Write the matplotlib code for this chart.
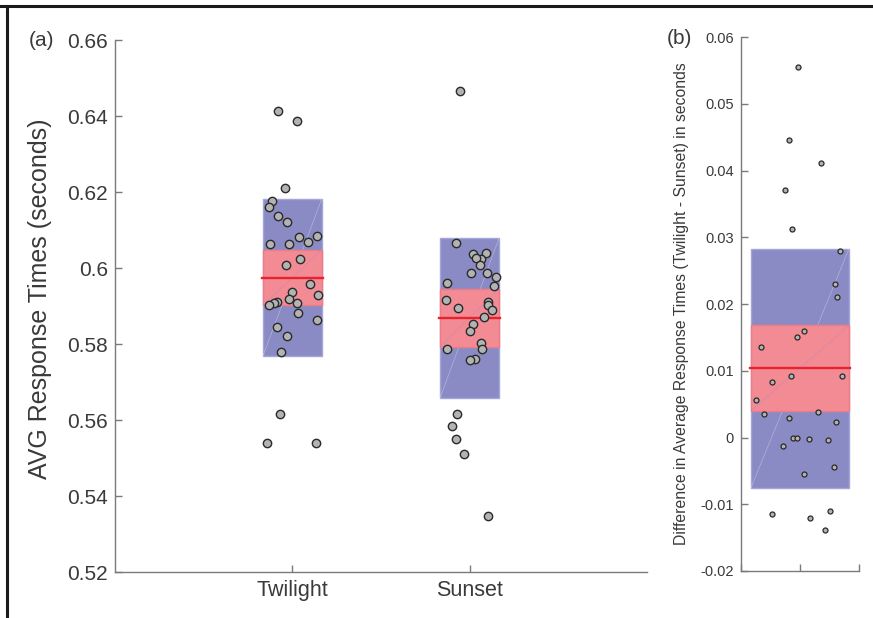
import numpy as np
import matplotlib.pyplot as plt
from matplotlib.patches import Rectangle
from matplotlib.lines import Line2D

plt.rcParams["font.family"] = ["Liberation Sans", "DejaVu Sans"]

# panel (a) data
categories = ["Twilight", "Sunset"]
twilight_rt = [0.6413, 0.6388, 0.6211, 0.6176, 0.6160, 0.6138, 0.6122, 0.6082,
               0.6084, 0.6068, 0.6062, 0.6062, 0.6024, 0.6009, 0.5958, 0.5930,
               0.5936, 0.5919, 0.5907, 0.5911, 0.5907, 0.5903, 0.5882, 0.5863,
               0.5844, 0.5821, 0.5780, 0.5617, 0.5540, 0.5540]
twilight_jitter = [-0.078, 0.025, -0.042, -0.112, -0.131, -0.083, -0.029, 0.038,
                   0.140, 0.086, -0.125, -0.016, 0.044, -0.037, 0.099, 0.146,
                   -0.003, -0.018, 0.025, -0.089, -0.104, -0.131, 0.031, 0.140,
                   -0.089, -0.029, -0.065, -0.071, -0.144, 0.133]
sunset_rt = [0.6467, 0.6065, 0.6037, 0.6039, 0.6024, 0.6026, 0.6009, 0.5986,
             0.5986, 0.5976, 0.5954, 0.5961, 0.5917, 0.5894, 0.5911, 0.5903,
             0.5890, 0.5872, 0.5853, 0.5834, 0.5803, 0.5786, 0.5787, 0.5761,
             0.5758, 0.5616, 0.5583, 0.5549, 0.5511, 0.5347]
sunset_jitter = [-0.052, -0.078, 0.021, 0.091, 0.065, 0.037, 0.058, 0.008,
                 0.099, 0.148, 0.138, -0.127, -0.134, -0.065, 0.104, 0.104,
                 0.125, 0.083, 0.018, 0.003, 0.063, 0.070, -0.127, 0.031,
                 0.003, -0.071, -0.099, -0.078, -0.033, 0.104]
means_a = [0.5975, 0.5869]
sd_a = [0.0207, 0.0210]
ci_a = [0.0073, 0.0076]

# panel (b) data
diff_rt = [0.0555, 0.0446, 0.0411, 0.0371, 0.0313, 0.0280, 0.0230, 0.0211,
           0.0159, 0.0151, 0.0136, 0.0093, 0.0092, 0.0084, 0.0056, 0.0036,
           0.0039, 0.0030, 0.0024, -0.0001, -0.0001, -0.0002, -0.0004, -0.0013,
           -0.0044, -0.0055, -0.0115, -0.0120, -0.0110, -0.0139]
diff_jitter = [-0.019, -0.093, 0.178, -0.127, -0.068, 0.339, 0.299, 0.314,
               0.034, -0.028, -0.328, -0.076, 0.353, -0.240, -0.375, -0.307,
               0.153, -0.093, 0.305, -0.057, -0.025, 0.074, 0.240, -0.142,
               0.288, 0.031, -0.240, 0.085, 0.257, 0.214]
mean_b = 0.0104
sd_b = 0.0179
ci_b = 0.0064

SD_COLOR = "#8a8bc4"
SD_EDGE = "#a4a5da"
CI_COLOR = "#f28b94"
CI_EDGE = "#ee7c86"
MEAN_COLOR = "#e8232d"
SPINE = "#7a7a7a"
TXT = "#3a3a3a"


def not_box(ax, x, mean, sd, ci, half):
    # SD patch, 95% CI patch, mean line
    ax.add_patch(Rectangle((x - half, mean - sd), 2 * half, 2 * sd,
                           facecolor=SD_COLOR, edgecolor=SD_EDGE, lw=1, zorder=1))
    ax.plot([x - half, x + half], [mean - sd, mean + sd], color="white",
            lw=0.5, alpha=0.35, zorder=1.5)
    ax.add_patch(Rectangle((x - half, mean - ci), 2 * half, 2 * ci,
                           facecolor=CI_COLOR, edgecolor=CI_EDGE, lw=1, zorder=2))
    ax.plot([x - half, x + half], [mean - ci, mean + ci], color="#9a8ad0",
            lw=0.5, alpha=0.4, zorder=2.5)
    ax.plot([x - half * 1.03, x + half * 1.03], [mean, mean], color=MEAN_COLOR,
            lw=1.7, zorder=3)


def style_axes(ax):
    for s in ["top", "right"]:
        ax.spines[s].set_visible(False)
    for s in ["left", "bottom"]:
        ax.spines[s].set_color(SPINE)
        ax.spines[s].set_linewidth(1.0)
    ax.tick_params(direction="in", color=SPINE, length=5, width=1, labelcolor=TXT)


fig = plt.figure(figsize=(8.73, 6.18), dpi=100)

# (a)
ax1 = fig.add_axes([0.1317, 0.0744, 0.6094, 0.8608])
style_axes(ax1)
for i, (vals, jit) in enumerate([(twilight_rt, twilight_jitter), (sunset_rt, sunset_jitter)]):
    xc = i + 1
    not_box(ax1, xc, means_a[i], sd_a[i], ci_a[i], 0.166)
    ax1.plot(xc + np.array(jit), vals, "o", ms=6, mfc="#b3b3b3", mec="#2a2a2a",
             mew=1.0, zorder=4, clip_on=False)
ax1.set_xlim(0, 3)
ax1.set_ylim(0.52, 0.66)
ax1.set_xticks([1, 2])
ax1.set_xticklabels(categories, fontsize=15.5)
yt = np.arange(0.52, 0.661, 0.02)
ax1.set_yticks(yt)
ax1.set_yticklabels(["%g" % round(v, 2) for v in yt], fontsize=15)
ax1.tick_params(axis="y", pad=5)
ax1.tick_params(axis="x", pad=6)
ax1.set_ylabel("AVG Response Times (seconds)", fontsize=18, color=TXT)
ax1.yaxis.set_label_coords(-0.118, 0.513)

# (b)
ax2 = fig.add_axes([0.8488, 0.0761, 0.1352, 0.8636])
style_axes(ax2)
not_box(ax2, 0.5, mean_b, sd_b, ci_b, 0.415)
ax2.plot(0.5 + np.array(diff_jitter), diff_rt, "o", ms=3.6, mfc="#b3b3b3",
         mec="#2a2a2a", mew=0.9, zorder=4, clip_on=False)
ax2.set_xlim(0, 1)
ax2.set_ylim(-0.02, 0.06)
ax2.set_xticks([0, 0.5, 1])
ax2.set_xticklabels([])
yt2 = np.arange(-0.02, 0.061, 0.01)
ax2.set_yticks(yt2)
ax2.set_yticklabels(["%g" % round(v, 2) for v in yt2], fontsize=10.5)
ax2.tick_params(axis="y", pad=5)
ax2.set_ylabel("Difference in Average Response Times (Twilight - Sunset) in seconds",
               fontsize=11.3, color=TXT)
ax2.yaxis.set_label_coords(-0.44, 0.5)

fig.text(41 / 873, 1 - 40 / 618, "(a)", fontsize=15, color=TXT, ha="center", va="center")
fig.text(679 / 873, 1 - 39 / 618, "(b)", fontsize=15, color=TXT, ha="center", va="center")

# frame around the figure (cropped: only top and left visible)
fig.add_artist(Line2D([0, 1], [1 - 6 / 618, 1 - 6 / 618], color="#1a1a1a", lw=2.2))
fig.add_artist(Line2D([7 / 873, 7 / 873], [0, 1 - 6 / 618], color="#1a1a1a", lw=2.2))

fig.savefig("out.png", dpi=100)
